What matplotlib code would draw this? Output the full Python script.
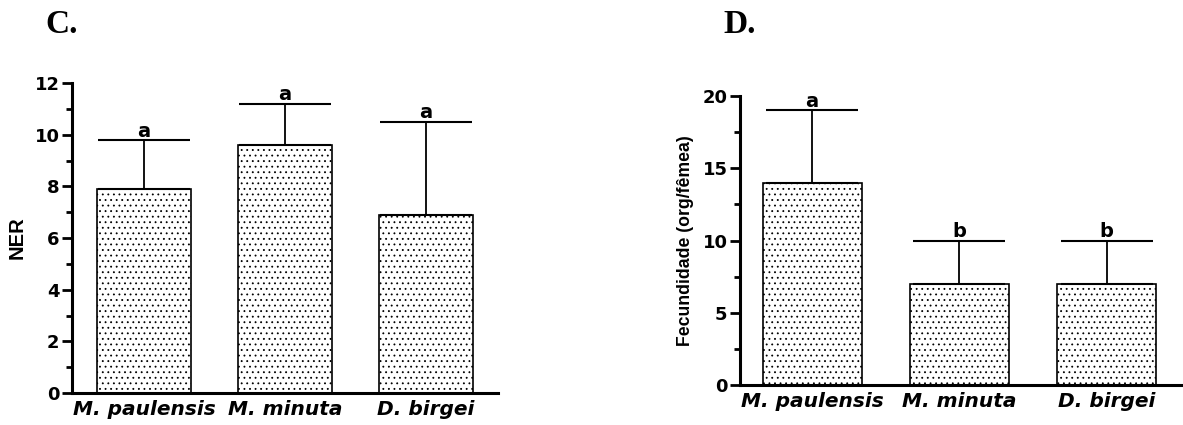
import numpy as np
import matplotlib
matplotlib.use("Agg")
import matplotlib.pyplot as plt
from matplotlib.ticker import MultipleLocator

plt.rcParams["font.family"] = ["DejaVu Sans"]
plt.rcParams["hatch.linewidth"] = 0.6

species = ["M. paulensis", "M. minuta", "D. birgei"]

ner_mean = [7.9, 9.6, 6.9]
ner_err = [1.9, 1.6, 3.6]
ner_letters = ["a", "a", "a"]

fec_mean = [14.0, 7.0, 7.0]
fec_err = [5.0, 3.0, 3.0]
fec_letters = ["a", "b", "b"]

fig = plt.figure(figsize=(11.83, 4.25), dpi=100)
ax_c = fig.add_axes([0.0609, 0.0753, 0.360, 0.729])
ax_d = fig.add_axes([0.6255, 0.0941, 0.3736, 0.68])


def draw_panel(ax, means, errs, letters, ylabel, ylabel_size, ymax, major, minor, xlim):
    x = np.arange(len(species))
    ax.bar(x, means, width=0.67, color="white", edgecolor="black",
           linewidth=1.2, hatch="...", zorder=2)
    ax.errorbar(x, means, yerr=[np.zeros(len(means)), errs], fmt="none",
                ecolor="black", elinewidth=1.3, capsize=33, capthick=1.5, zorder=3)
    for xi, m, e, lt in zip(x, means, errs, letters):
        ax.annotate(lt, xy=(xi, m + e), xytext=(0, 2.5), textcoords="offset points",
                    ha="center", va="baseline", fontsize=14, fontweight="bold")
    ax.set_xlim(*xlim)
    ax.set_ylim(0, ymax)
    ax.set_xticks(x)
    ax.set_xticklabels(species, fontsize=14.5, fontweight="bold", style="italic")
    ax.tick_params(axis="x", length=0, pad=5)
    ax.yaxis.set_major_locator(MultipleLocator(major))
    ax.yaxis.set_minor_locator(MultipleLocator(minor))
    ax.tick_params(axis="y", which="major", length=7, width=2, labelsize=13, pad=2)
    ax.tick_params(axis="y", which="minor", length=4, width=2)
    for t in ax.get_yticklabels():
        t.set_fontweight("bold")
    for s in ["top", "right"]:
        ax.spines[s].set_visible(False)
    for s in ["left", "bottom"]:
        ax.spines[s].set_linewidth(2.2)
    ax.set_ylabel(ylabel, fontsize=ylabel_size, fontweight="bold", labelpad=6,
                  family="Liberation Sans")


draw_panel(ax_c, ner_mean, ner_err, ner_letters, "NER", 14.5, 12, 2, 1, (-0.51, 2.51))
draw_panel(ax_d, fec_mean, fec_err, fec_letters, "Fecundidade (org/fêmea)", 12.7, 20, 5, 2.5,
           (-0.49, 2.51))

fig.text(45 / 1183, 1 - 33 / 425, "C.", fontsize=24, fontweight="bold",
         family="Liberation Serif", ha="left", va="baseline")
fig.text(723 / 1183, 1 - 33 / 425, "D.", fontsize=24, fontweight="bold",
         family="Liberation Serif", ha="left", va="baseline")

fig.savefig("out.png", dpi=100)
